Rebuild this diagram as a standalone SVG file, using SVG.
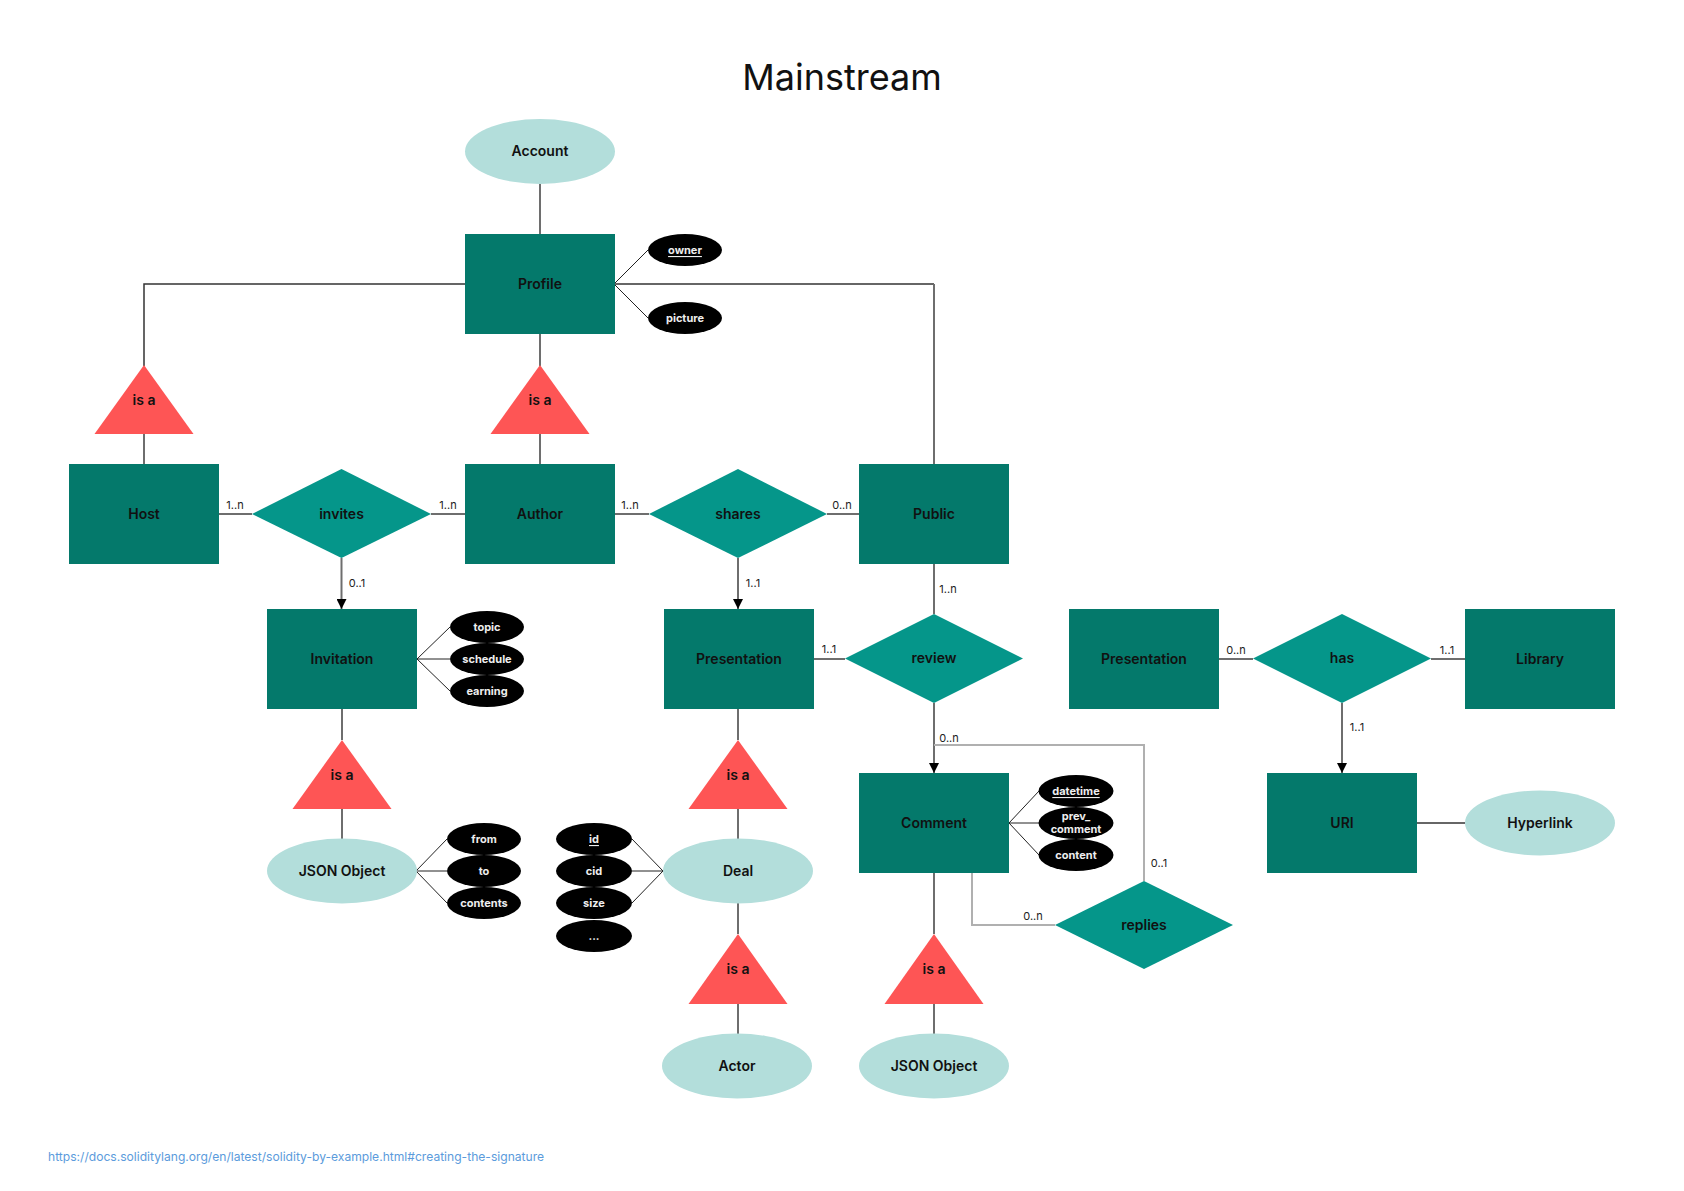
<svg xmlns="http://www.w3.org/2000/svg" width="1684" height="1191" viewBox="0 0 1684 1191">
<style>
text{font-family:Inter,"Liberation Sans",sans-serif}
.ent{fill:#04796b}
.rel{fill:#05968a}
.ell{fill:#b3dedb}
.isa{fill:#fe5555}
.attr{fill:#000}
.lbl{font-size:14px;font-weight:600;fill:#111;text-anchor:middle;dominant-baseline:central}
.al{font-size:11px;font-weight:700;fill:#eee;text-anchor:middle;dominant-baseline:central}
.card{font-size:11px;fill:#222;text-anchor:middle}
.c{fill:none;stroke:#6e6e6e;stroke-width:2}
.ca{fill:none;stroke:#6e6e6e;stroke-width:2;marker-end:url(#arr)}
.cl{fill:none;stroke:#b0b0b0;stroke-width:2}
.ct{fill:none;stroke:#333;stroke-width:1.5}
.at{fill:none;stroke:#222;stroke-width:1}
</style>
<defs>
<marker id="arr" viewBox="0 0 10 10" refX="10" refY="5" markerWidth="5" markerHeight="5" markerUnits="strokeWidth" orient="auto">
<path d="M0,0 L10,5 L0,10 z" fill="#000"/>
</marker>
</defs>
<rect width="1684" height="1191" fill="#fff"/>
<text x="842" y="90" font-size="36" text-anchor="middle" fill="#111">Mainstream</text>

<g id="connectors">
<path class="c" d="M540,184 V234"/>
<path class="ct" d="M465,284 H144 V366"/>
<path class="c" d="M144,434 V464"/>
<path class="c" d="M540,334 V366"/>
<path class="c" d="M540,434 V464"/>
<path class="ct" d="M614,284 H934"/>
<path class="c" d="M934,284 V464"/>
<path class="at" d="M614,284 L648,250 M614,284 L648,318"/>
<path class="c" d="M219,514 H252"/>
<path class="c" d="M431,514 H465"/>
<path class="c" d="M614,514 H649"/>
<path class="c" d="M827,514 H859"/>
<path class="ca" d="M341.5,558 V609"/>
<path class="ca" d="M738,558 V609"/>
<path class="c" d="M934,564 V614"/>
<path class="c" d="M813,659 H845"/>
<path class="ca" d="M934,703 V773"/>
<path class="cl" d="M934,745 H1144 V881"/>
<path class="cl" d="M972,873 V925 H1055"/>
<path class="at" d="M417,659 L450,627 M417,659 L450,659 M417,659 L450,691"/>
<path class="at" d="M1009,823 L1039,791 M1009,823 L1039,823 M1009,823 L1039,855"/>
<path class="c" d="M342,709 V740"/>
<path class="c" d="M342,809 V839"/>
<path class="at" d="M416,871 L447,839 M416,871 L447,871 M416,871 L447,903"/>
<path class="at" d="M663,871 L632,839 M663,871 L632,871 M663,871 L632,903"/>
<path class="c" d="M738,709 V740"/>
<path class="c" d="M738,809 V839"/>
<path class="c" d="M738,903 V934"/>
<path class="c" d="M738,1004 V1034"/>
<path class="c" d="M934,873 V934"/>
<path class="c" d="M934,1004 V1034"/>
<path class="c" d="M1219,659 H1253"/>
<path class="c" d="M1431,659 H1465"/>
<path class="ca" d="M1342,703 V773"/>
<path class="ct" d="M1417,823 H1465"/>
<text class="card" x="235" y="509">1..n</text>
<text class="card" x="448" y="509">1..n</text>
<text class="card" x="630" y="509">1..n</text>
<text class="card" x="842" y="509">0..n</text>
<text class="card" x="357" y="587">0..1</text>
<text class="card" x="753" y="587">1..1</text>
<text class="card" x="948" y="593">1..n</text>
<text class="card" x="829" y="653">1..1</text>
<text class="card" x="949" y="742">0..n</text>
<text class="card" x="1159" y="867">0..1</text>
<text class="card" x="1033" y="920">0..n</text>
<text class="card" x="1236" y="654">0..n</text>
<text class="card" x="1447" y="654">1..1</text>
<text class="card" x="1357" y="731">1..1</text>
</g>

<g id="account"><ellipse class="ell" cx="540" cy="151.5" rx="75" ry="32.5"/><text class="lbl" x="540" y="150.5">Account</text></g>
<g id="profile"><rect class="ent" x="465" y="234" width="150" height="100"/><text class="lbl" x="540" y="283">Profile</text></g>
<g id="attr-owner"><ellipse class="attr" cx="685" cy="250" rx="37" ry="16"/><text class="al" x="685" y="250" text-decoration="underline">owner</text></g>
<g id="attr-picture"><ellipse class="attr" cx="685" cy="318" rx="37" ry="16"/><text class="al" x="685" y="318">picture</text></g>

<g id="isa-host"><polygon class="isa" points="144,365 193.5,434 94.5,434"/><text class="lbl" x="144" y="399">is a</text></g>
<g id="isa-author"><polygon class="isa" points="540,365 589.5,434 490.5,434"/><text class="lbl" x="540" y="399">is a</text></g>

<g id="host"><rect class="ent" x="69" y="464" width="150" height="100"/><text class="lbl" x="144" y="513">Host</text></g>
<g id="invites"><polygon class="rel" points="341.5,469 431,514 341.5,558 252,514"/><text class="lbl" x="341.5" y="513">invites</text></g>
<g id="author"><rect class="ent" x="465" y="464" width="150" height="100"/><text class="lbl" x="540" y="513">Author</text></g>
<g id="shares"><polygon class="rel" points="738,469 827,514 738,558 649,514"/><text class="lbl" x="738" y="513">shares</text></g>
<g id="public"><rect class="ent" x="859" y="464" width="150" height="100"/><text class="lbl" x="934" y="513">Public</text></g>

<g id="invitation"><rect class="ent" x="267" y="609" width="150" height="100"/><text class="lbl" x="342" y="658">Invitation</text></g>
<g id="attr-topic"><ellipse class="attr" cx="487" cy="627" rx="37" ry="16"/><text class="al" x="487" y="627">topic</text></g>
<g id="attr-schedule"><ellipse class="attr" cx="487" cy="659" rx="37" ry="16"/><text class="al" x="487" y="659">schedule</text></g>
<g id="attr-earning"><ellipse class="attr" cx="487" cy="691" rx="37" ry="16"/><text class="al" x="487" y="691">earning</text></g>

<g id="presentation"><rect class="ent" x="664" y="609" width="150" height="100"/><text class="lbl" x="739" y="658">Presentation</text></g>
<g id="review"><polygon class="rel" points="934,614 1023,658.5 934,703 845,658.5"/><text class="lbl" x="934" y="657.5">review</text></g>

<g id="presentation2"><rect class="ent" x="1069" y="609" width="150" height="100"/><text class="lbl" x="1144" y="658">Presentation</text></g>
<g id="has"><polygon class="rel" points="1342,614 1431,658.5 1342,703 1253,658.5"/><text class="lbl" x="1342" y="657.5">has</text></g>
<g id="library"><rect class="ent" x="1465" y="609" width="150" height="100"/><text class="lbl" x="1540" y="658">Library</text></g>

<g id="isa-invitation"><polygon class="isa" points="342,740 391.5,809 292.5,809"/><text class="lbl" x="342" y="774">is a</text></g>
<g id="isa-presentation"><polygon class="isa" points="738,740 787.5,809 688.5,809"/><text class="lbl" x="738" y="774">is a</text></g>

<g id="json1"><ellipse class="ell" cx="342" cy="871" rx="75" ry="32.5"/><text class="lbl" x="342" y="870">JSON Object</text></g>
<g id="attr-from"><ellipse class="attr" cx="484" cy="839" rx="37" ry="16"/><text class="al" x="484" y="839">from</text></g>
<g id="attr-to"><ellipse class="attr" cx="484" cy="871" rx="37" ry="16"/><text class="al" x="484" y="871">to</text></g>
<g id="attr-contents"><ellipse class="attr" cx="484" cy="903" rx="37" ry="16"/><text class="al" x="484" y="903">contents</text></g>

<g id="attr-id"><ellipse class="attr" cx="594" cy="839" rx="38" ry="16"/><text class="al" x="594" y="839" text-decoration="underline">id</text></g>
<g id="attr-cid"><ellipse class="attr" cx="594" cy="871" rx="38" ry="16"/><text class="al" x="594" y="871">cid</text></g>
<g id="attr-size"><ellipse class="attr" cx="594" cy="903" rx="38" ry="16"/><text class="al" x="594" y="903">size</text></g>
<g id="attr-more"><ellipse class="attr" cx="594" cy="936" rx="38" ry="16"/><text class="al" x="594" y="936">...</text></g>
<g id="deal"><ellipse class="ell" cx="738" cy="871" rx="75" ry="32.5"/><text class="lbl" x="738" y="870">Deal</text></g>

<g id="comment"><rect class="ent" x="859" y="773" width="150" height="100"/><text class="lbl" x="934" y="822">Comment</text></g>
<g id="attr-datetime"><ellipse class="attr" cx="1076" cy="791" rx="37.5" ry="16"/><text class="al" x="1076" y="791" text-decoration="underline">datetime</text></g>
<g id="attr-prev"><ellipse class="attr" cx="1076" cy="823" rx="37.5" ry="16"/><text class="al" x="1076" y="816">prev_</text><text class="al" x="1076" y="829">comment</text></g>
<g id="attr-content"><ellipse class="attr" cx="1076" cy="855" rx="37.5" ry="16"/><text class="al" x="1076" y="855">content</text></g>

<g id="uri"><rect class="ent" x="1267" y="773" width="150" height="100"/><text class="lbl" x="1342" y="822">URI</text></g>
<g id="hyperlink"><ellipse class="ell" cx="1540" cy="823" rx="75" ry="32.5"/><text class="lbl" x="1540" y="822">Hyperlink</text></g>

<g id="replies"><polygon class="rel" points="1144,881 1233,925 1144,969 1055,925"/><text class="lbl" x="1144" y="924">replies</text></g>

<g id="isa-deal"><polygon class="isa" points="738,934 787.5,1004 688.5,1004"/><text class="lbl" x="738" y="968">is a</text></g>
<g id="isa-comment"><polygon class="isa" points="934,934 983.5,1004 884.5,1004"/><text class="lbl" x="934" y="968">is a</text></g>
<g id="actor"><ellipse class="ell" cx="737" cy="1066" rx="75" ry="32.5"/><text class="lbl" x="737" y="1065">Actor</text></g>
<g id="json2"><ellipse class="ell" cx="934" cy="1066" rx="75" ry="32.5"/><text class="lbl" x="934" y="1065">JSON Object</text></g>

<text x="48" y="1161" font-size="12.1" fill="#5b9bdc">https://docs.soliditylang.org/en/latest/solidity-by-example.html#creating-the-signature</text>
</svg>
